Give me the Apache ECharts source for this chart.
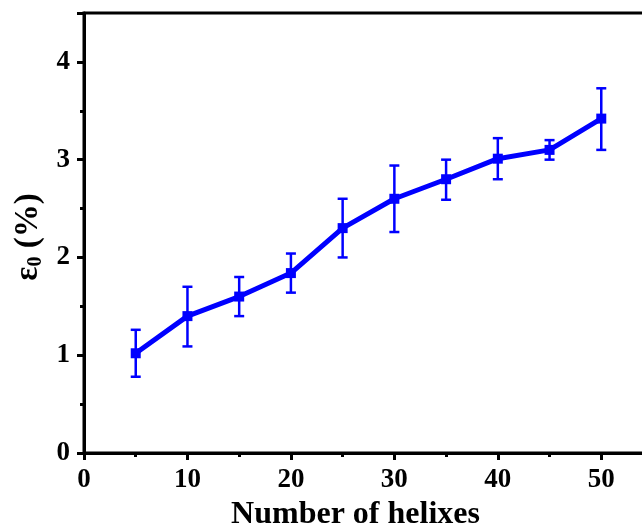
<!DOCTYPE html>
<html>
<head>
<meta charset="utf-8">
<script src="https://cdn.jsdelivr.net/npm/echarts@6/dist/echarts.min.js"></script>
<style>
  html, body { margin: 0; padding: 0; background: #fff; }
  #chart { width: 642px; height: 526px; }
</style>
</head>
<body>
<div id="chart"></div>
<script>
// data
const helixes = [5, 10, 15, 20, 25, 30, 35, 40, 45, 50];
const strain = [1.02, 1.40, 1.60, 1.84, 2.30, 2.60, 2.80, 3.01, 3.10, 3.42];
const errHigh = [1.26, 1.70, 1.80, 2.04, 2.60, 2.94, 3.00, 3.22, 3.20, 3.73];
const errLow = [0.78, 1.09, 1.40, 1.64, 2.00, 2.26, 2.59, 2.80, 3.00, 3.10];

const font = "'Liberation Serif', 'Times New Roman', serif";
const blue = "#0000ff";

const chart = echarts.init(document.getElementById("chart"));

const axisCommon = {
  axisLine: { lineStyle: { color: "#000", width: 3 } },
  axisTick: { inside: false, length: 7, lineStyle: { color: "#000", width: 3 } },
  minorTick: { show: true, splitNumber: 2, length: 4, lineStyle: { color: "#000", width: 3 } },
  splitLine: { show: false },
};

const option = {
  animation: false,
  grid: {
    left: 84,
    top: 13,
    width: 569,
    height: 440,
    containLabel: false,
    outerBoundsMode: "none",
    show: true,
    borderColor: "#000",
    borderWidth: 3,
  },
  xAxis: {
    type: "value",
    min: 0,
    max: 55,
    interval: 10,
    ...axisCommon,
    axisLabel: {
      color: "#000",
      fontFamily: font,
      fontWeight: "bold",
      fontSize: 27,
      margin: 14,
      showMaxLabel: false,
    },
    name: "Number of helixes",
    nameLocation: "middle",
    nameGap: 39,
    nameTextStyle: {
      color: "#000",
      fontFamily: font,
      fontWeight: "bold",
      fontSize: 32,
      padding: [0, 26, 0, 0],
    },
  },
  yAxis: {
    type: "value",
    min: 0,
    max: 4.5,
    interval: 1,
    ...axisCommon,
    axisLabel: {
      color: "#000",
      fontFamily: font,
      fontWeight: "bold",
      fontSize: 27,
      margin: 14,
      showMaxLabel: false,
    },
    name: "{a|ε}{s|0}{a| (%)}",
    nameLocation: "middle",
    nameGap: 38,
    nameTextStyle: {
      color: "#000",
      fontFamily: font,
      fontWeight: "bold",
      padding: [0, 8, 0, 0],
      rich: {
        a: { fontFamily: font, fontWeight: "bold", fontSize: 33, color: "#000" },
        s: { fontFamily: font, fontWeight: "bold", fontSize: 20, color: "#000", padding: [15, 0, 0, 0] },
      },
    },
  },
  series: [
    {
      type: "custom",
      data: helixes.map((h, i) => [h, errLow[i], errHigh[i]]),
      renderItem: (params, api) => {
        const lo = api.coord([api.value(0), api.value(1)]);
        const hi = api.coord([api.value(0), api.value(2)]);
        const cap = 5;
        const style = { stroke: blue, lineWidth: 2.5 };
        return {
          type: "group",
          children: [
            { type: "line", shape: { x1: lo[0], y1: lo[1], x2: hi[0], y2: hi[1] }, style },
            { type: "line", shape: { x1: lo[0] - cap, y1: lo[1], x2: lo[0] + cap, y2: lo[1] }, style },
            { type: "line", shape: { x1: hi[0] - cap, y1: hi[1], x2: hi[0] + cap, y2: hi[1] }, style },
          ],
        };
      },
      z: 2,
    },
    {
      type: "line",
      data: helixes.map((h, i) => [h, strain[i]]),
      symbol: "rect",
      symbolSize: 10,
      lineStyle: { color: blue, width: 5 },
      itemStyle: { color: blue },
      z: 3,
    },
  ],
};

chart.setOption(option);
</script>
</body>
</html>
